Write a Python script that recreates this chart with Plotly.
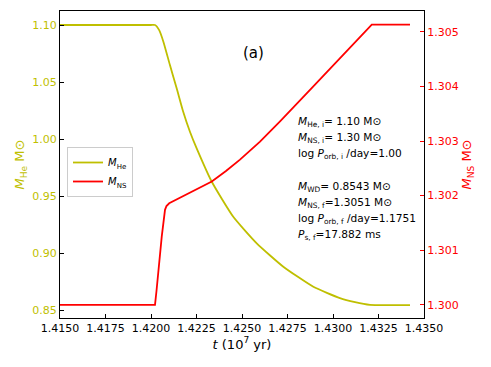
import plotly.graph_objects as go

# Data
t_he = [1.4150, 1.4175, 1.4200, 1.42022, 1.42045, 1.42068, 1.42104, 1.42141, 1.42177, 1.42214,
        1.42251, 1.42334, 1.42452, 1.42581, 1.42727, 1.42892, 1.43038, 1.43121,
        1.43203, 1.43300, 1.43423]
m_he = [1.1000, 1.1000, 1.1000, 1.1000, 1.0955, 1.0854, 1.0649, 1.0445, 1.0239, 1.0064,
        0.9918, 0.9625, 0.9318, 0.9085, 0.8880, 0.8704, 0.8605, 0.8570,
        0.8546, 0.8543, 0.8543]

t_ns = [1.4150, 1.4175, 1.42022, 1.42030, 1.42040, 1.42059, 1.42077, 1.42085, 1.42100, 1.42123,
        1.42214, 1.42334, 1.42412, 1.42489, 1.42599, 1.42709, 1.42892, 1.43075, 1.43213, 1.43423]
m_ns = [1.30000, 1.30000, 1.30000, 1.30025, 1.30064, 1.30125, 1.30174, 1.30181, 1.30186, 1.30190,
        1.30205, 1.30226, 1.30245, 1.30266, 1.30299, 1.30336, 1.30400, 1.30464, 1.30513, 1.30513]

x_ticks = [1.4150, 1.4175, 1.4200, 1.4225, 1.4250, 1.4275, 1.4300, 1.4325, 1.4350]
y_ticks = [0.85, 0.90, 0.95, 1.00, 1.05, 1.10]
y2_ticks = [1.300, 1.301, 1.302, 1.303, 1.304, 1.305]

info_lines = [
    "<i>M</i><sub>He, i</sub>= 1.10 M⊙",
    "<i>M</i><sub>NS, i</sub>= 1.30 M⊙",
    "log <i>P</i><sub>orb, i</sub> /day=1.00",
    "",
    "<i>M</i><sub>WD</sub>= 0.8543 M⊙",
    "<i>M</i><sub>NS, f</sub>=1.3051 M⊙",
    "log <i>P</i><sub>orb, f</sub> /day=1.1751",
    "<i>P</i><sub>s, f</sub>=17.882 ms",
]

OLIVE = "#bfbf00"
RED = "#ff0000"
FONT = "DejaVu Sans"

# page body has an 8px margin: lay out in figure coordinates shifted by it
OFF = 8
W, H = 491 - OFF, 367 - OFF
L, R, T, B = 60 - OFF, 424 - OFF, 11 - OFF, 318 - OFF
PW, PH = R - L, B - T

fig = go.Figure()
fig.add_trace(go.Scatter(x=t_he, y=m_he, mode="lines", name="<i>M</i><sub>He</sub>",
                         line=dict(color=OLIVE, width=1.8, shape="spline", smoothing=0.5)))
fig.add_trace(go.Scatter(x=t_ns, y=m_ns, mode="lines", name="<i>M</i><sub>NS</sub>",
                         line=dict(color=RED, width=1.8), yaxis="y2"))

annotations = [dict(x=(253 - OFF - L) / PW, y=(B - (53 - OFF)) / PH, xref="paper", yref="paper", text="(a)",
                    showarrow=False, xanchor="center", yanchor="middle",
                    font=dict(size=15, color="black", family=FONT))]
y0 = 122 - OFF
for i, line in enumerate(info_lines):
    if not line:
        continue
    ypix = y0 + i * 16.2
    annotations.append(dict(x=(296 - OFF - L) / PW, y=(B - ypix) / PH, xref="paper", yref="paper", text=line,
                            showarrow=False, xanchor="left", yanchor="middle",
                            font=dict(size=10.6, color="black", family=FONT)))

fig.update_layout(
    width=W, height=H,
    margin=dict(l=L, r=W - R, t=T, b=H - B, autoexpand=False),
    paper_bgcolor="white", plot_bgcolor="white",
    font=dict(family=FONT, size=11, color="black"),
    showlegend=True,
    legend=dict(x=(67 - OFF - L) / PW, y=(B - (147 - OFF)) / PH, xanchor="left", yanchor="top",
                bgcolor="white", bordercolor="#cccccc", borderwidth=1,
                font=dict(size=10, family=FONT), tracegroupgap=0, itemwidth=30),
    xaxis=dict(range=[1.4150, 1.4350], tickvals=x_ticks, tickformat=".4f", automargin=False,
               ticks="inside", ticklen=4, tickcolor="black", showgrid=False, zeroline=False,
               showline=True, linecolor="black", linewidth=1.2, mirror=True,
               title=dict(text="<i>t</i> (10<sup>7</sup> yr)", font=dict(size=13), standoff=4),
               tickfont=dict(size=11)),
    yaxis=dict(range=[0.843, 1.1123], tickvals=y_ticks, tickformat=".2f", automargin=False,
               ticks="inside", ticklen=4, tickcolor="black", showgrid=False, zeroline=False,
               showline=True, linecolor="black", linewidth=1.2,
               tickfont=dict(color=OLIVE, size=11),
               title=dict(text="<i>M</i><sub>He</sub> M⊙", font=dict(color=OLIVE, size=13), standoff=4)),
    yaxis2=dict(range=[1.29976, 1.30538], tickvals=y2_ticks, tickformat=".3f", overlaying="y", side="right",
                automargin=False,
                ticks="inside", ticklen=4, tickcolor=RED, showgrid=False, zeroline=False,
                showline=True, linecolor="black", linewidth=1.2,
                tickfont=dict(color=RED, size=11),
                title=dict(text="<i>M</i><sub>NS</sub> M⊙", font=dict(color=RED, size=13), standoff=4)),
    annotations=annotations,
)

fig.write_html("out.html")
